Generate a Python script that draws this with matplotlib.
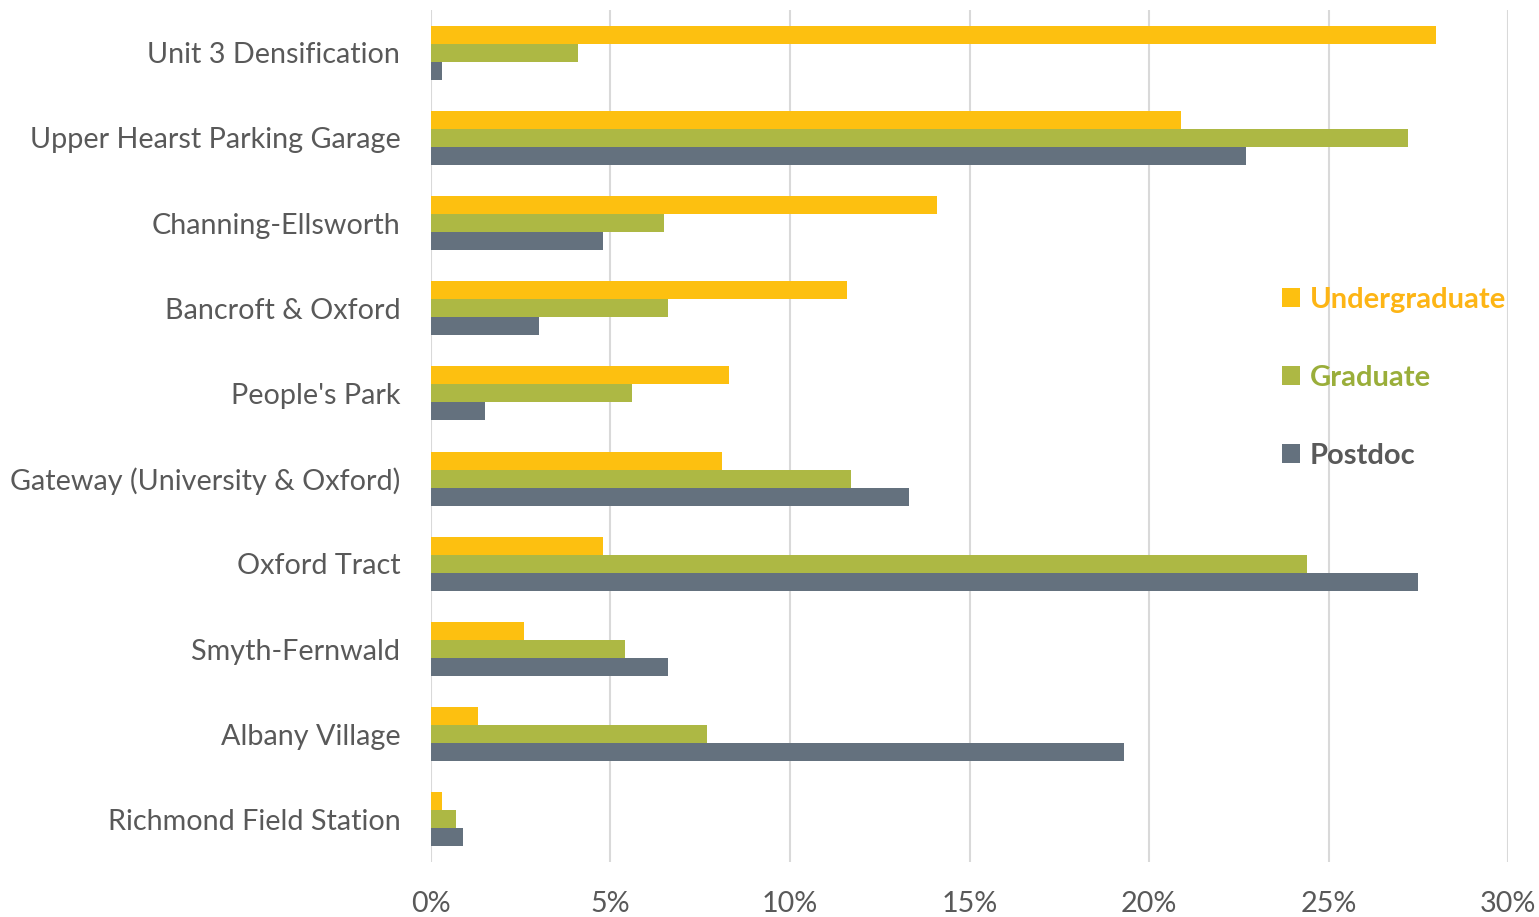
import numpy as np
import matplotlib.pyplot as plt
from matplotlib.ticker import FuncFormatter

sites = ['Unit 3 Densification', 'Upper Hearst Parking Garage', 'Channing-Ellsworth',
         'Bancroft & Oxford', "People's Park", 'Gateway (University & Oxford)',
         'Oxford Tract', 'Smyth-Fernwald', 'Albany Village', 'Richmond Field Station']
undergrad = [28.0, 20.9, 14.1, 11.6, 8.3, 8.1, 4.8, 2.6, 1.3, 0.3]
graduate = [4.1, 27.2, 6.5, 6.6, 5.6, 11.7, 24.4, 5.4, 7.7, 0.7]
postdoc = [0.3, 22.7, 4.8, 3.0, 1.5, 13.3, 27.5, 6.6, 19.3, 0.9]


def main():
    plt.rcParams['font.family'] = ['Lato', 'DejaVu Sans']
    text_color = '#595959'
    colors = {'Undergraduate': '#FDC010', 'Graduate': '#ADB844', 'Postdoc': '#64717E'}

    fig = plt.figure(figsize=(15.39, 9.17), dpi=100)
    ax = fig.add_axes([0.28, 0.06, 0.70, 0.929])

    y = np.arange(len(sites))
    h = 0.211
    ax.barh(y - h, undergrad, height=h, color=colors['Undergraduate'], label='Undergraduate', zorder=2)
    ax.barh(y, graduate, height=h, color=colors['Graduate'], label='Graduate', zorder=2)
    ax.barh(y + h, postdoc, height=h, color=colors['Postdoc'], label='Postdoc', zorder=2)

    ax.set_ylim(-0.5, len(sites) - 0.5)
    ax.invert_yaxis()
    ax.set_xlim(0, 30)
    ax.set_xticks(np.arange(0, 31, 5))
    ax.xaxis.set_major_formatter(FuncFormatter(lambda v, p: f'{v:.0f}%'))
    ax.set_yticks(y)
    ax.set_yticklabels(sites, va='center_baseline')
    ax.tick_params(axis='both', length=0, labelsize=20.7, labelcolor=text_color)
    ax.tick_params(axis='x', pad=21)
    ax.tick_params(axis='y', pad=22)
    ax.grid(axis='x', color='#D9D9D9', linewidth=1.5, zorder=0)
    for s in ax.spines.values():
        s.set_visible(False)

    leg = ax.legend(loc='upper left', bbox_to_anchor=(0.766, 0.706), frameon=False,
                    labelspacing=1.78, handlelength=0.6, handleheight=0.6,
                    handletextpad=0.35, prop={'weight': 'bold', 'size': 21})
    for t, c in zip(leg.get_texts(), ['#FDB515', '#9AAE3A', text_color]):
        t.set_color(c)

    fig.savefig('out.png', dpi=100)


if __name__ == '__main__':
    main()
